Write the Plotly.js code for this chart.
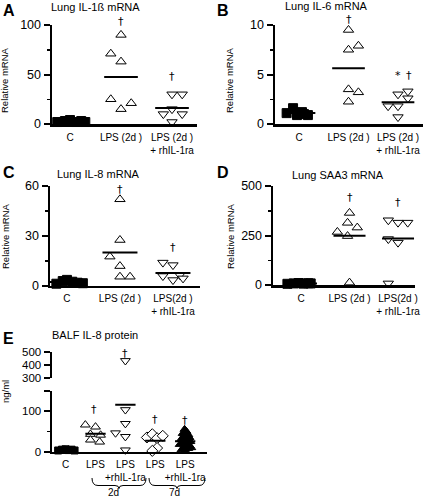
<!DOCTYPE html>
<html>
<head>
<meta charset="utf-8">
<script src="https://cdn.plot.ly/plotly-3.0.1.min.js"></script>
<style>html,body{margin:0;padding:0;background:#fff;}#chart{width:430px;height:497px;opacity:0.999;}</style>
</head>
<body>
<div id="chart"></div>
<script>
// ---------- DATA ----------
const catsAB = ['C', 'LPS (2d )', 'LPS (2d )<br>+ rhIL-1ra'];
const catsCD = ['C', 'LPS (2d )', 'LPS(2d )<br>+ rhIL-1ra'];
const catsE = ['C', 'LPS', 'LPS<br>+rhIL-1ra', 'LPS', 'LPS<br>+rhIL-1ra'];
const groupLabelsE = ['2d', '7d'];

const il1b_C = [2, 3, 4, 2, 3, 2];
const il1b_LPS = [90, 71, 63, 25, 15, 21];
const il1b_RA = [30, 30, 10, 15, 10, 2];

const il6_C = [1.1, 1.6, 0.9, 1.2, 0.9, 1.0];
const il6_LPS = [9.5, 7.5, 7.9, 3.5, 3.2, 2.25];
const il6_RA = [1.8, 1.8, 3.0, 3.3, 2.6, 0.7];

const il8_C = [1.2, 2.8, 3.5, 2.4, 1.8, 1.5];
const il8_LPS = [52, 27.5, 17.5, 11.8, 5.4, 5.4];
const il8_RA = [13.9, 12.4, 5.8, 3.4, 6.4, 4.4];

const saa_C = [6, 8, 10, 7, 9, 8];
const saa_LPS = [364, 314, 290, 268, 247, 12];
const saa_RA = [327, 315, 315, 232, 214, 8];

const balf_C = [3, 5, 6, 4, 5, 3];
const balf_LPS2 = [66, 61, 43, 41, 29, 24];
const balf_RA2 = [432, 103, 69, 46, 37, 4];
const balf_LPS7 = [35, 43, 33, 39, 9, 2];
const balf_RA7 = [55, 50, 45, 42, 38, 35, 33, 30, 28, 25, 22, 20, 18, 15, 12, 10, 8, 5, 3];

// ---------- LAYOUT HELPERS (horizontal scatter of points within a group) ----------
const JIT = {
  aC: [-0.25, -0.1, 0.0, 0.12, 0.22, 0.3], aL: [0, -0.2, 0, -0.2, 0, 0.2], aR: [0, 0.2, -0.17, 0, 0.2, 0],
  bC: [-0.25, -0.12, -0.04, 0.06, 0.18, 0.1], bL: [0, 0, 0.2, 0, 0.2, 0], bR: [-0.2, 0, 0, 0.2, 0.2, 0],
  cC: [-0.2, -0.08, 0.0, 0.1, 0.2, 0.3], cL: [0, 0, -0.19, 0, 0, 0.19], cR: [-0.19, 0, -0.19, 0, 0.13, 0.19],
  dC: [-0.28, -0.15, -0.05, 0.05, 0.15, 0.2], dL: [0, -0.04, 0.16, -0.25, -0.04, 0], dR: [-0.2, 0, 0.2, -0.2, 0, -0.2],
  eC: [-0.25, -0.12, 0, 0.1, 0.2, 0.3], eL2: [-0.34, 0, -0.17, 0.17, -0.17, 0.14], eR2: [0, 0, 0, -0.33, 0, 0],
  eL7: [-0.28, -0.1, 0.06, 0.25, 0.06, -0.1],
  eR7: [-0.02, 0.04, -0.08, 0.1, -0.05, 0.14, 0.02, -0.14, 0.08, 0.17, -0.1, 0.05, -0.18, 0.15, -0.04, 0.2, 0.1, -0.12, 0.0]
};

const W = 430, H = 497;
const fx = p => p / W, fy = p => 1 - p / H;
const FONT = 'Liberation Sans, Arial, sans-serif';
const mean = a => a.reduce((s, v) => s + v, 0) / a.length;

const traces = [];
function pts(vals, idx, jit, xa, ya, sym, fill, size) {
  traces.push({
    type: 'scatter', mode: 'markers', xaxis: xa, yaxis: ya, cliponaxis: false,
    x: vals.map((v, i) => idx + jit[i]), y: vals,
    marker: { symbol: sym, size: size || 9, color: fill ? '#000' : '#fff', line: { color: '#000', width: 1 } },
    hoverinfo: 'skip'
  });
}
function meanLine(vals, idx, xa, ya, half) {
  const m = mean(vals);
  traces.push({
    type: 'scatter', mode: 'lines', xaxis: xa, yaxis: ya, cliponaxis: false,
    x: [idx - half, idx + half], y: [m, m], line: { color: '#000', width: 2 }, hoverinfo: 'skip'
  });
}

// Panel A
pts(il1b_C, 0, JIT.aC, 'x', 'y', 'square', true); meanLine(il1b_C, 0, 'x', 'y', 0.33);
pts(il1b_LPS, 1, JIT.aL, 'x', 'y', 'triangle-up', false); meanLine(il1b_LPS, 1, 'x', 'y', 0.33);
pts(il1b_RA, 2, JIT.aR, 'x', 'y', 'triangle-down', false); meanLine(il1b_RA, 2, 'x', 'y', 0.33);
// Panel B
pts(il6_C, 0, JIT.bC, 'x2', 'y2', 'square', true); meanLine(il6_C, 0, 'x2', 'y2', 0.33);
pts(il6_LPS, 1, JIT.bL, 'x2', 'y2', 'triangle-up', false); meanLine(il6_LPS, 1, 'x2', 'y2', 0.33);
pts(il6_RA, 2, JIT.bR, 'x2', 'y2', 'triangle-down', false); meanLine(il6_RA, 2, 'x2', 'y2', 0.33);
// Panel C
pts(il8_C, 0, JIT.cC, 'x3', 'y3', 'square', true); meanLine(il8_C, 0, 'x3', 'y3', 0.33);
pts(il8_LPS, 1, JIT.cL, 'x3', 'y3', 'triangle-up', false); meanLine(il8_LPS, 1, 'x3', 'y3', 0.33);
pts(il8_RA, 2, JIT.cR, 'x3', 'y3', 'triangle-down', false); meanLine(il8_RA, 2, 'x3', 'y3', 0.33);
// Panel D
pts(saa_C, 0, JIT.dC, 'x4', 'y4', 'square', true); meanLine(saa_C, 0, 'x4', 'y4', 0.33);
pts(saa_LPS, 1, JIT.dL, 'x4', 'y4', 'triangle-up', false); meanLine(saa_LPS, 1, 'x4', 'y4', 0.33);
pts(saa_RA, 2, JIT.dR, 'x4', 'y4', 'triangle-down', false); meanLine(saa_RA, 2, 'x4', 'y4', 0.33);
// Panel E (broken axis: values above 300 go on the upper axis)
function ptsE(vals, idx, jit, sym, fill, size) {
  const lo = [], hi = [], jl = [], jh = [];
  vals.forEach((v, i) => { if (v >= 300) { hi.push(v); jh.push(jit[i]); } else { lo.push(v); jl.push(jit[i]); } });
  if (lo.length) pts(lo, idx, jl, 'x5', 'y5', sym, fill, size);
  if (hi.length) pts(hi, idx, jh, 'x5', 'y6', sym, fill, size);
}
ptsE(balf_C, 0, JIT.eC, 'square', true, 7); meanLine(balf_C, 0, 'x5', 'y5', 0.3);
ptsE(balf_LPS2, 1, JIT.eL2, 'triangle-up', false, 8.5); meanLine(balf_LPS2, 1, 'x5', 'y5', 0.34);
ptsE(balf_RA2, 2, JIT.eR2, 'triangle-down', false, 8.5); meanLine(balf_RA2, 2, 'x5', 'y5', 0.34);
ptsE(balf_LPS7, 3, JIT.eL7, 'diamond', false, 8.5); meanLine(balf_LPS7, 3, 'x5', 'y5', 0.34);
ptsE(balf_RA7, 4, JIT.eR7, 'triangle-up', true, 8); meanLine(balf_RA7, 4, 'x5', 'y5', 0.34);

// ---------- AXES ----------
function xax(dom, range, cats, anchor, size) {
  return {
    domain: dom, range: range, anchor: anchor, tickvals: cats.map((c, i) => i), ticktext: cats,
    ticks: '', tickangle: 0, ticklabelstandoff: 2, showgrid: false, zeroline: false, showline: true,
    linewidth: 2.5, linecolor: '#000',
    tickfont: { family: FONT, size: size || 10, color: '#000' }, fixedrange: true
  };
}
function yax(dom, range, major, minor, anchor, labels, size) {
  return {
    domain: dom, range: range, anchor: anchor, tickvals: major, ticktext: labels || major.map(String),
    ticks: 'outside', ticklen: 6, tickwidth: 2, tickcolor: '#000',
    minor: minor ? { tickvals: minor, ticks: 'outside', ticklen: 3, tickwidth: 1.5, tickcolor: '#000' } : undefined,
    showgrid: false, zeroline: false, showline: true, linewidth: 2.5, linecolor: '#000',
    tickfont: { family: FONT, size: size || 12.5, color: '#000' }, fixedrange: true
  };
}

const layout = {
  width: W, height: H, margin: { l: 0, r: 0, t: 0, b: 0 }, showlegend: false,
  paper_bgcolor: '#fff', plot_bgcolor: 'rgba(0,0,0,0)',
  xaxis: xax([fx(52), fx(197)], [-0.353, 2.49], catsAB, 'y'),
  yaxis: yax([fy(124), fy(25)], [0, 100], [0, 50, 100], [25, 75], 'x'),
  xaxis2: xax([fx(275), fx(423)], [-0.485, 2.505], catsAB, 'y2'),
  yaxis2: yax([fy(124), fy(25)], [0, 10], [0, 5, 10], [2.5, 7.5], 'x2'),
  xaxis3: xax([fx(50), fx(200)], [-0.32, 2.51], catsCD, 'y3'),
  yaxis3: yax([fy(285.7), fy(186)], [0, 60], [0, 30, 60], [15, 45], 'x3'),
  xaxis4: xax([fx(273), fx(415)], [-0.577, 2.35], catsCD, 'y4'),
  yaxis4: yax([fy(285), fy(186)], [0, 500], [0, 250, 500], [125, 375], 'x4'),
  xaxis5: xax([fx(52), fx(207)], [-0.455, 4.73], catsE, 'y5', 10),
  yaxis5: yax([fy(451.7), fy(390.7)], [0, 150], [0, 100, 150], [50], 'x5', ['0', '100', ''], 11.5),
  yaxis6: yax([fy(378.3), fy(351.7)], [300, 500], [300, 400, 500], null, 'x5', null, 11.5),
  annotations: [], shapes: []
};

// convert a data value on an axis to paper coordinates (so marks above the range still show)
function toPaper(axName, v) {
  const ax = layout[axName];
  return ax.domain[0] + (v - ax.range[0]) / (ax.range[1] - ax.range[0]) * (ax.domain[1] - ax.domain[0]);
}

const ann = layout.annotations;
function txt(x, y, t, size, extra) {
  ann.push(Object.assign({ x: x, y: y, xref: 'paper', yref: 'paper', text: t, showarrow: false,
    font: { family: FONT, size: size, color: 'black' }, xanchor: 'center', yanchor: 'middle' }, extra || {}));
}
function mark(xa, ya, xv, yv, t) {
  txt(toPaper(xa, xv), toPaper(ya, yv), t, 12, { font: { family: 'DejaVu Sans, sans-serif', size: 11, color: 'black' } });
}
// Panel letters
[['A', 1, 10], ['B', 215, 10], ['C', 1, 172], ['D', 215, 172], ['E', 1, 338]].forEach(l =>
  txt(fx(l[1]), fy(l[2]), '<b>' + l[0] + '</b>', 16, { xanchor: 'left' }));
// Panel titles
txt(fx(49), fy(7), 'Lung IL-1ß mRNA', 11, { xanchor: 'left' });
txt(fx(283), fy(6), 'Lung IL-6 mRNA', 11, { xanchor: 'left' });
txt(fx(55), fy(174), 'Lung IL-8 mRNA', 11, { xanchor: 'left' });
txt(fx(290), fy(175), 'Lung SAA3 mRNA', 11, { xanchor: 'left' });
txt(fx(50), fy(335), 'BALF IL-8 protein', 11, { xanchor: 'left' });
// Y titles
txt(fx(5), fy(80), 'Relative mRNA', 9.5, { textangle: -90 });
txt(fx(230), fy(80), 'Relative mRNA', 9.5, { textangle: -90 });
txt(fx(5), fy(236), 'Relative mRNA', 9.5, { textangle: -90 });
txt(fx(230), fy(236), 'Relative mRNA', 9.5, { textangle: -90 });
txt(fx(5), fy(392), 'ng/ml', 9.5, { textangle: -90 });
// Significance marks
mark('xaxis', 'yaxis', 1, 104, '†'); mark('xaxis', 'yaxis', 2, 48, '†');
mark('xaxis2', 'yaxis2', 1, 10.6, '†'); mark('xaxis2', 'yaxis2', 2.0, 4.85, '*'); mark('xaxis2', 'yaxis2', 2.22, 4.85, '†');
mark('xaxis3', 'yaxis3', 1, 58, '†'); mark('xaxis3', 'yaxis3', 2, 23, '†');
mark('xaxis4', 'yaxis4', 1, 441, '†'); mark('xaxis4', 'yaxis4', 2, 418, '†');
mark('xaxis5', 'yaxis5', 0.95, 103, '†'); mark('xaxis5', 'yaxis6', 2, 487, '†');
mark('xaxis5', 'yaxis5', 3, 79, '†'); mark('xaxis5', 'yaxis5', 4, 77, '†');
// Group braces and labels for panel E
function brace(x0, x1, xc, yt, yb) {
  const P = (x, y) => fx(x) + ',' + fy(y);
  return 'M' + P(x0, yt) + ' Q' + P(x0, yb) + ' ' + P(x0 + 6, yb) + ' L' + P(xc - 4, yb) +
    ' Q' + P(xc, yb) + ' ' + P(xc, yb + 3) + ' Q' + P(xc, yb) + ' ' + P(xc + 4, yb) +
    ' L' + P(x1 - 6, yb) + ' Q' + P(x1, yb) + ' ' + P(x1, yt);
}
layout.shapes.push({ type: 'path', xref: 'paper', yref: 'paper', path: brace(92, 146, 119, 478, 485.5), line: { color: '#000', width: 1 } });
layout.shapes.push({ type: 'path', xref: 'paper', yref: 'paper', path: brace(149, 205, 177, 478, 485.5), line: { color: '#000', width: 1 } });
txt(fx(114), fy(492), groupLabelsE[0], 10);
txt(fx(174), fy(492), groupLabelsE[1], 10);

Plotly.newPlot('chart', traces, layout, { staticPlot: true, displayModeBar: false });
</script>
</body>
</html>
